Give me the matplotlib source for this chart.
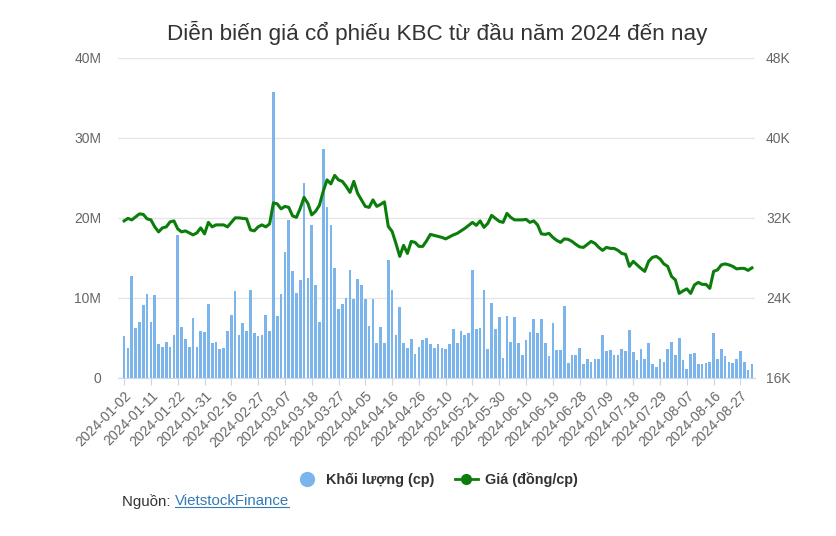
import numpy as np
import pandas as pd
import matplotlib
matplotlib.use("Agg")
import matplotlib.pyplot as plt
from matplotlib.lines import Line2D

plt.rcParams['font.family'] = ['Liberation Sans', 'DejaVu Sans']

# trading days (HOSE), Tet + Hung Kings + 30/4-1/5 closed
holidays = ['2024-02-08', '2024-02-09', '2024-02-12', '2024-02-13', '2024-02-14',
            '2024-04-18', '2024-04-29', '2024-04-30', '2024-05-01']
dates = [d for d in pd.bdate_range('2024-01-02', '2024-08-30')
         if d.strftime('%Y-%m-%d') not in holidays]
date_labels = [d.strftime('%Y-%m-%d') for d in dates]

# volume, million shares
volume_m = [
    5.2, 3.7, 12.7, 6.2, 7.0, 9.1, 10.5, 7.0, 10.4, 4.25,
    3.9, 4.5, 3.8, 5.4, 17.9, 6.3, 4.9, 3.9, 7.5, 3.8,
    5.8, 5.7, 9.25, 4.4, 4.5, 3.6, 3.75, 5.8, 7.9, 10.8,
    5.4, 6.9, 5.8, 11.0, 5.6, 5.2, 5.4, 7.9, 5.8, 35.7,
    7.7, 10.5, 15.7, 19.75, 13.3, 10.6, 12.25, 24.4, 12.5, 19.1,
    11.6, 7.0, 28.6, 21.4, 19.1, 13.7, 8.6, 9.25, 10.0, 13.5,
    9.8, 12.4, 11.6, 9.8, 6.5, 9.8, 4.3, 6.3, 4.4, 14.75,
    11.0, 5.4, 8.8, 4.4, 3.7, 4.9, 2.95, 3.9, 4.7, 5.0,
    4.2, 3.7, 4.2, 3.75, 3.6, 4.2, 6.1, 4.4, 5.9, 5.4,
    5.6, 13.5, 6.1, 6.2, 11.0, 3.6, 9.3, 6.1, 7.6, 2.45,
    7.7, 4.5, 7.6, 4.4, 2.9, 4.7, 5.7, 7.3, 5.6, 7.3,
    4.3, 2.7, 6.9, 3.5, 3.5, 9.0, 1.8, 2.9, 2.8, 3.75,
    1.7, 2.4, 2.0, 2.4, 2.4, 5.3, 3.3, 3.5, 2.9, 2.9,
    3.6, 3.3, 6.0, 3.2, 2.2, 3.6, 2.3, 4.4, 1.7, 1.4,
    2.3, 2.0, 3.6, 4.5, 2.9, 5.0, 2.2, 1.1, 3.0, 3.1,
    1.7, 1.7, 1.8, 2.0, 5.6, 2.3, 3.6, 2.7, 2.0, 1.8,
    2.4, 3.3, 2.0, 1.0, 1.7]

# close price, thousand dong
price_k = [
    31.7, 31.95, 31.8, 32.1, 32.4, 32.35, 31.9, 31.8, 31.1, 30.6,
    31.0, 31.1, 31.6, 31.7, 30.9, 30.6, 30.7, 30.5, 30.3, 30.5,
    31.0, 30.4, 31.55, 31.1, 31.3, 31.3, 31.3, 31.1, 31.55, 32.0,
    32.0, 31.95, 31.9, 30.8, 30.7, 31.1, 31.3, 31.1, 31.4, 33.5,
    33.4, 32.9, 33.15, 33.05, 32.2, 32.05, 32.95, 34.05, 33.45, 32.3,
    32.65, 33.25, 34.65, 35.8, 35.4, 36.25, 35.8, 35.65, 35.15, 34.55,
    35.65, 34.45, 33.8, 33.15, 33.05, 33.8, 33.15, 33.35, 33.6, 31.15,
    30.65, 29.45, 28.15, 29.25, 28.45, 29.65, 29.55, 29.15, 29.15, 29.7,
    30.35, 30.25, 30.15, 30.05, 29.9, 30.1, 30.3, 30.45, 30.7, 30.95,
    31.25, 31.55, 31.25, 31.7, 31.05, 31.45, 32.25, 31.95, 31.65, 31.55,
    32.45, 32.05, 31.8, 31.8, 31.8, 31.85, 31.55, 31.7, 31.3, 30.4,
    30.35, 30.45, 30.05, 29.75, 29.55, 29.9, 29.85, 29.65, 29.35, 29.1,
    29.05, 29.35, 29.65, 29.45, 29.05, 28.75, 29.05, 28.95, 28.95, 28.75,
    28.45, 28.35, 27.15, 27.65, 27.3, 26.95, 26.65, 27.65, 28.05, 28.15,
    27.9, 27.4, 27.15, 26.15, 25.8, 24.45, 24.7, 24.9, 24.45, 25.3,
    25.55, 25.35, 25.35, 24.95, 26.65, 26.8, 27.3, 27.4, 27.3, 27.15,
    26.9, 26.95, 26.95, 26.75, 27.0]

vol_ticks = [0, 10, 20, 30, 40]
vol_tick_labels = ['0', '10M', '20M', '30M', '40M']
price_ticks = [16, 24, 32, 40, 48]
price_tick_labels = ['16K', '24K', '32K', '40K', '48K']

x = np.arange(len(dates))
bar_color = '#7cb5ec'
line_color = '#0a7d0a'

fig = plt.figure(figsize=(8.37, 5.36), dpi=100)
ax = fig.add_axes([0.141, 0.295, 0.761, 0.597])
ax2 = ax.twinx()

ax.bar(x, volume_m, width=0.7, color=bar_color, zorder=2)
ax2.plot(x, price_k, color=line_color, lw=2.2, zorder=3)

ax.set_xlim(-1.6, len(x) - 0.2)
ax.set_ylim(0, 40)
ax2.set_ylim(16, 48)
ax.set_yticks(vol_ticks)
ax.set_yticklabels(vol_tick_labels)
ax2.set_yticks(price_ticks)
ax2.set_yticklabels(price_tick_labels)

step = 7
ax.set_xticks(x[::step])
ax.set_xticklabels(date_labels[::step], rotation=45, ha='right',
                   rotation_mode='anchor')

ax.grid(axis='y', color='#e6e6e6', lw=1, zorder=0)
ax.set_axisbelow(True)
for a in (ax, ax2):
    for s in ('top', 'left', 'right', 'bottom'):
        a.spines[s].set_visible(False)
ax.spines['bottom'].set_visible(True)
ax.spines['bottom'].set_color('#ccd6eb')
ax.tick_params(axis='x', colors='#ccd6eb', length=5, labelcolor='#666666',
               labelsize=10, pad=3)
ax.tick_params(axis='y', length=0, labelcolor='#666666', labelsize=10, pad=12)
ax2.tick_params(axis='y', length=0, labelcolor='#666666', labelsize=10, pad=8)

fig.text(0.522, 0.938, 'Diễn biến giá cổ phiếu KBC từ đầu năm 2024 đến nay',
         ha='center', va='center', fontsize=16.2, color='#333333')

handles = [
    Line2D([], [], ls='none', marker='o', ms=10, color=bar_color),
    Line2D([], [], color=line_color, lw=2, marker='o', ms=7),
]
fig.legend(handles, ['Khối lượng (cp)', 'Giá (đồng/cp)'], loc='center',
           bbox_to_anchor=(0.522, 0.105), ncol=2, frameon=False,
           prop={'weight': 'bold', 'size': 10.4}, labelcolor='#333333',
           handlelength=1.6, columnspacing=1.4, handletextpad=0.5)

t1 = fig.text(0.146, 0.065, 'Nguồn: ', fontsize=10.8, color='#333333',
              ha='left', va='center')
fig.canvas.draw()
r = fig.canvas.get_renderer()
bb = t1.get_window_extent(r).transformed(fig.transFigure.inverted())
t2 = fig.text(bb.x1, 0.065, 'VietstockFinance', fontsize=10.8, color='#337ab7',
              ha='left', va='center')
bb2 = t2.get_window_extent(r).transformed(fig.transFigure.inverted())
fig.add_artist(Line2D([bb2.x0, bb2.x1], [bb2.y0 + 0.002, bb2.y0 + 0.002],
                      color='#337ab7', lw=0.8, transform=fig.transFigure))

fig.savefig('out.png', dpi=100)
